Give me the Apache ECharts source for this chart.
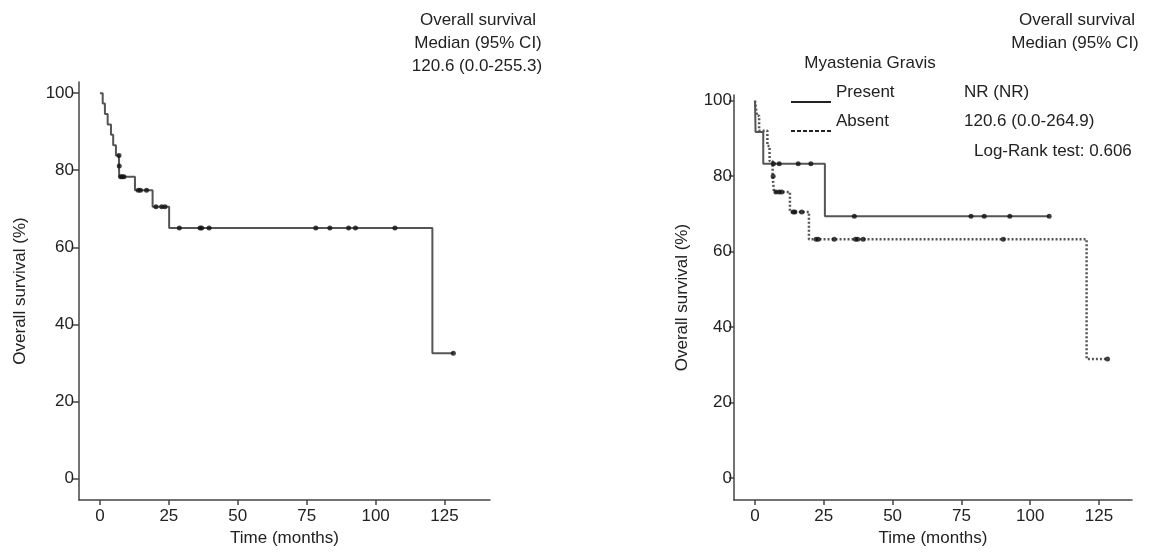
<!DOCTYPE html>
<html>
<head>
<meta charset="utf-8">
<script src="https://cdn.jsdelivr.net/npm/echarts@6/dist/echarts.min.js"></script>
<style>
html,body{margin:0;padding:0;background:#fff;}
#c{width:1154px;height:552px;}
</style>
</head>
<body>
<div id="c"></div>
<script>
// ---- Data ----
var xTicks = [0, 25, 50, 75, 100, 125];
var yTicks = [0, 20, 40, 60, 80, 100];

// Left panel: overall survival (Kaplan-Meier steps)
var leftTime = [0, 1.0, 1.8, 2.8, 4.0, 4.8, 5.8, 6.9, 7.0, 12.7, 19.1, 25.1, 120.6, 128.2];
var leftSurv = [100, 97.3, 94.6, 91.9, 89.2, 86.5, 83.8, 81.1, 78.3, 74.8, 70.5, 65.0, 32.5, 32.5];
var leftCensTime = [6.9, 7.0, 7.5, 8.1, 8.7, 13.9, 14.7, 16.9, 20.3, 22.4, 23.6, 28.8, 36.3, 36.9, 39.6, 78.3, 83.4, 90.2, 92.7, 107.0, 128.2];
var leftCensSurv = [83.8, 81.1, 78.3, 78.3, 78.3, 74.8, 74.8, 74.8, 70.5, 70.5, 70.5, 65.0, 65.0, 65.0, 65.0, 65.0, 65.0, 65.0, 65.0, 65.0, 32.5];

// Right panel: Myastenia Gravis present / absent
var presentTime = [0, 0.2, 3.0, 25.4, 106.9];
var presentSurv = [100, 91.7, 83.3, 69.4, 69.4];
var presentCensTime = [6.7, 8.8, 15.7, 20.3, 36.1, 78.5, 83.3, 92.6, 106.9];
var presentCensSurv = [83.3, 83.3, 83.3, 83.3, 69.4, 69.4, 69.4, 69.4, 69.4];

var absentTime = [0, 0.7, 1.5, 4.5, 5.3, 6.4, 6.9, 12.7, 19.6, 120.5, 128.1];
var absentSurv = [100, 96, 92, 88, 84, 80, 75.8, 70.5, 63.3, 31.6, 31.6];
var absentCensTime = [6.6, 7.6, 8.8, 9.7, 13.9, 14.5, 17.0, 22.2, 23.0, 28.8, 36.5, 37.3, 39.3, 90.2, 128.1];
var absentCensSurv = [80, 75.8, 75.8, 75.8, 70.5, 70.5, 70.5, 63.3, 63.3, 63.3, 63.3, 63.3, 63.3, 63.3, 31.6];

// ---- Helpers ----
function pairs(a, b) { return a.map(function (v, i) { return [v, b[i]]; }); }
var FONT = '"Liberation Sans", Arial, Helvetica, sans-serif';
var TXT = '#222';
var AX = '#444';

function xAxisDef(grid, min, max, gap) {
  return {
    type: 'value', gridIndex: grid, min: min, max: max,
    name: 'Time (months)', nameLocation: 'middle', nameGap: gap,
    nameTextStyle: { fontFamily: FONT, fontSize: 17, color: TXT },
    axisLine: { show: true, onZero: false, lineStyle: { color: AX, width: 1.5 } },
    axisTick: { show: true, length: 5, customValues: xTicks, lineStyle: { color: AX, width: 1.5 } },
    axisLabel: { customValues: xTicks, fontFamily: FONT, fontSize: 17, color: TXT, margin: 8 },
    splitLine: { show: false }
  };
}
function yAxisDef(grid, min, max, gap, tickLen, margin) {
  return {
    type: 'value', gridIndex: grid, min: min, max: max,
    name: 'Overall survival (%)', nameLocation: 'middle', nameGap: gap,
    nameTextStyle: { fontFamily: FONT, fontSize: 17, color: TXT },
    axisLine: { show: true, onZero: false, lineStyle: { color: AX, width: 1.5 } },
    axisTick: { show: true, length: tickLen, customValues: yTicks, lineStyle: { color: AX, width: 1.5 } },
    axisLabel: { customValues: yTicks, fontFamily: FONT, fontSize: 17, color: TXT, margin: margin },
    splitLine: { show: false }
  };
}
function censor(name, xi, yi, data) {
  return {
    name: name, type: 'scatter', xAxisIndex: xi, yAxisIndex: yi, data: data,
    symbol: 'circle', symbolSize: 5, itemStyle: { color: '#111' }, z: 5,
    silent: true
  };
}
function txt(x, y, s, align) {
  return { type: 'text', x: x, y: y, style: { text: s, textAlign: align || 'center', textVerticalAlign: 'middle', font: '17px ' + FONT, fill: TXT } };
}

// legend icons: a line sitting at the bottom of a 40x22 box (tiny invisible anchor at top)
var anchor = 'M0,-20 L0.01,-20 L0.01,-19.99 Z ';
var solidIcon = 'path://' + anchor + 'M0,0 L40,0 L40,2 L0,2 Z';
var dashIcon = 'path://' + anchor + 'M0,0 L4,0 L4,2 L0,2 Z M6,0 L10,0 L10,2 L6,2 Z M12,0 L16,0 L16,2 L12,2 Z M18,0 L22,0 L22,2 L18,2 Z M24,0 L28,0 L28,2 L24,2 Z M30,0 L34,0 L34,2 L30,2 Z M36,0 L40,0 L40,2 L36,2 Z';

var chart = echarts.init(document.getElementById('c'), null, { renderer: 'canvas' });
chart.setOption({
  animation: false,
  backgroundColor: '#fff',
  textStyle: { fontFamily: FONT },
  grid: [
    { left: 79, right: 664, top: 82, bottom: 50 },
    { left: 734, right: 22, top: 95, bottom: 43 }
  ],
  xAxis: [
    xAxisDef(0, -7.6, 141.5, 30),
    xAxisDef(1, -7.63, 137.0, 24)
  ],
  yAxis: [
    yAxisDef(0, -5.6, 102.9, 50, 7, 5),
    yAxisDef(1, -5.8, 101.5, 43, 5, 2)
  ],
  legend: {
    data: [
      { name: 'Present', icon: solidIcon, itemStyle: { color: '#222' } },
      { name: 'Absent', icon: dashIcon, itemStyle: { color: '#222' } }
    ],
    orient: 'vertical', left: 791, top: 81, itemWidth: 40, itemHeight: 22, itemGap: 7,
    padding: 0,
    textStyle: { fontFamily: FONT, fontSize: 17, color: TXT },
    selectedMode: false
  },
  series: [
    {
      name: 'Overall', type: 'line', step: 'end', xAxisIndex: 0, yAxisIndex: 0,
      data: pairs(leftTime, leftSurv), showSymbol: false, symbol: 'none',
      lineStyle: { color: '#555', width: 2 }
    },
    censor('Overall censored', 0, 0, pairs(leftCensTime, leftCensSurv)),
    {
      name: 'Present', type: 'line', step: 'end', xAxisIndex: 1, yAxisIndex: 1,
      data: pairs(presentTime, presentSurv), showSymbol: false, symbol: 'none',
      lineStyle: { color: '#555', width: 2 }, itemStyle: { color: '#222' }
    },
    {
      name: 'Absent', type: 'line', step: 'end', xAxisIndex: 1, yAxisIndex: 1,
      data: pairs(absentTime, absentSurv), showSymbol: false, symbol: 'none',
      lineStyle: { color: '#555', width: 2.5, type: [2, 2] }, itemStyle: { color: '#222' }
    },
    censor('Present censored', 1, 1, pairs(presentCensTime, presentCensSurv)),
    censor('Absent censored', 1, 1, pairs(absentCensTime, absentCensSurv))
  ],
  graphic: [
    txt(478, 20, 'Overall survival'),
    txt(478, 43, 'Median (95% CI)'),
    txt(477, 66, '120.6 (0.0-255.3)'),
    txt(1077, 20, 'Overall survival'),
    txt(1075, 43, 'Median (95% CI)'),
    txt(870, 63, 'Myastenia Gravis'),
    txt(964, 92, 'NR (NR)', 'left'),
    txt(964, 121, '120.6 (0.0-264.9)', 'left'),
    txt(974, 151, 'Log-Rank test: 0.606', 'left')
  ]
});
</script>
</body>
</html>
